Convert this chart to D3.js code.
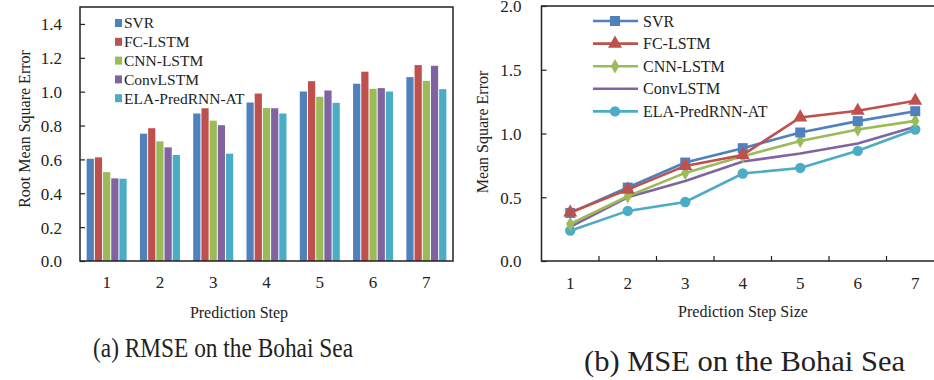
<!DOCTYPE html>
<html>
<head>
<meta charset="utf-8">
<script src="https://cdn.jsdelivr.net/npm/d3@7"></script>
<style>
  body { margin: 0; background: #fff; }
  svg { display: block; }
</style>
</head>
<body>
<svg id="chart" width="934" height="380"></svg>
<script>
// ---- data ----
var steps = ["1", "2", "3", "4", "5", "6", "7"];
var models = ["SVR", "FC-LSTM", "CNN-LSTM", "ConvLSTM", "ELA-PredRNN-AT"];
var colors = ["#4F81BD", "#C0504D", "#9BBB59", "#8064A2", "#4BACC6"];
var markers = ["square", "triangle", "diamond", "none", "circle"];

// RMSE per model (bars, panel a)
var rmseSVR  = [0.604, 0.752, 0.871, 0.936, 1.001, 1.047, 1.086];
var rmseFC   = [0.612, 0.784, 0.902, 0.989, 1.062, 1.118, 1.157];
var rmseCNN  = [0.525, 0.707, 0.829, 0.904, 0.970, 1.017, 1.064];
var rmseConv = [0.488, 0.671, 0.802, 0.902, 1.007, 1.021, 1.153];
var rmseELA  = [0.486, 0.626, 0.634, 0.871, 0.934, 1.001, 1.015];

// MSE per model (lines, panel b)
var mseSVR  = [0.377, 0.576, 0.772, 0.885, 1.008, 1.097, 1.175];
var mseFC   = [0.380, 0.560, 0.746, 0.832, 1.126, 1.178, 1.257];
var mseCNN  = [0.290, 0.508, 0.691, 0.822, 0.942, 1.031, 1.099];
var mseConv = [0.267, 0.500, 0.628, 0.780, 0.843, 0.921, 1.052];
var mseELA  = [0.238, 0.393, 0.463, 0.686, 0.730, 0.864, 1.031];

var rmseTicks = [0, 0.2, 0.4, 0.6, 0.8, 1.0, 1.2, 1.4];
var mseTicks = [0, 0.5, 1.0, 1.5, 2.0];

var rmse = [rmseSVR, rmseFC, rmseCNN, rmseConv, rmseELA];
var mse = [mseSVR, mseFC, mseCNN, mseConv, mseELA];

var svg = d3.select("#chart");
var ink = "#222";

/* ---------------- panel (a): grouped bars ---------------- */
var a = {left: 80, right: 453, top: 7, bottom: 261};
var ga = svg.append("g");

var xA = d3.scaleBand().domain(steps).range([a.left, a.right]);
var xInner = d3.scaleBand().domain(models).range([0, 40]).paddingInner(0.12);
var yA = d3.scaleLinear().domain([0, 1.5]).range([a.bottom, a.top]);

rmse.forEach(function (vals, m) {
    ga.selectAll(".bar" + m)
        .data(vals)
        .enter().append("rect")
        .attr("x", function (d, i) { return xA(steps[i]) + (xA.bandwidth() - 40) / 2 + xInner(models[m]); })
        .attr("y", function (d) { return yA(d); })
        .attr("width", xInner.bandwidth())
        .attr("height", function (d) { return yA(0) - yA(d); })
        .attr("fill", colors[m]);
});

// frame
ga.append("rect")
    .attr("x", a.left).attr("y", a.top)
    .attr("width", a.right - a.left).attr("height", a.bottom - a.top)
    .attr("fill", "none").attr("stroke", ink).attr("stroke-width", 1.5);

// y axis (ticks inward)
var yAxisA = d3.axisRight(yA).tickValues(rmseTicks).tickSize(5).tickFormat(d3.format(".1f"));
var yax = ga.append("g").attr("transform", "translate(" + a.left + ",0)").call(yAxisA);
yax.select(".domain").remove();
yax.selectAll("line").attr("stroke", ink).attr("stroke-width", 1.2);
yax.selectAll("text").attr("x", -18).attr("text-anchor", "end").attr("fill", ink)
    .style("font-size", "17px").attr("dy", "0.35em");

// x labels
ga.selectAll(".xl").data(steps).enter().append("text")
    .attr("x", function (d) { return xA(d) + xA.bandwidth() / 2; })
    .attr("y", 288).attr("text-anchor", "middle").style("font-size", "17px").attr("fill", ink)
    .text(function (d) { return d; });

ga.append("text").attr("x", 239).attr("y", 318).attr("text-anchor", "middle").attr("fill", ink)
    .style("font-size", "16px").text("Prediction Step");
ga.append("text").attr("transform", "translate(30,129) rotate(-90)").attr("fill", ink)
    .attr("text-anchor", "middle").style("font-size", "16px").text("Root Mean Square Error");

// legend
models.forEach(function (name, m) {
    var ly = 23 + m * 18.8;
    ga.append("rect").attr("x", 115).attr("y", ly - 4).attr("width", 7).attr("height", 8).attr("fill", colors[m]);
    ga.append("text").attr("x", 124).attr("y", ly).attr("dy", "0.35em").attr("fill", ink)
        .style("font-size", "15.5px").text(name);
});

/* ---------------- panel (b): lines ---------------- */
var b = {left: 541.5, top: 6, bottom: 261};
var bandW = 57.5;
var gb = svg.append("g");

var xB = d3.scalePoint().domain(steps).range([b.left + bandW / 2, b.left + bandW * 6.5]);
var yB = d3.scaleLinear().domain([0, 2.0]).range([b.bottom, b.top]);
var bRight = b.left + bandW * 7;

gb.append("rect")
    .attr("x", b.left).attr("y", b.top)
    .attr("width", bRight - b.left).attr("height", b.bottom - b.top)
    .attr("fill", "none").attr("stroke", ink).attr("stroke-width", 1.5);

var yAxisB = d3.axisRight(yB).tickValues(mseTicks).tickSize(5).tickFormat(d3.format(".1f"));
var ybx = gb.append("g").attr("transform", "translate(" + b.left + ",0)").call(yAxisB);
ybx.select(".domain").remove();
ybx.selectAll("line").attr("stroke", ink).attr("stroke-width", 1.2);
ybx.selectAll("text").attr("x", -20).attr("text-anchor", "end").attr("fill", ink)
    .style("font-size", "17px").attr("dy", "0.35em");

// x tick marks between categories (inward)
gb.selectAll(".xt").data(d3.range(1, 7)).enter().append("line")
    .attr("x1", function (k) { return b.left + k * bandW; })
    .attr("x2", function (k) { return b.left + k * bandW; })
    .attr("y1", b.bottom).attr("y2", b.bottom - 5)
    .attr("stroke", ink).attr("stroke-width", 1.2);

gb.selectAll(".xl").data(steps).enter().append("text")
    .attr("x", function (d) { return xB(d); })
    .attr("y", 289).attr("text-anchor", "middle").style("font-size", "17px").attr("fill", ink)
    .text(function (d) { return d; });

gb.append("text").attr("x", 743).attr("y", 317).attr("text-anchor", "middle").attr("fill", ink)
    .style("font-size", "16px").text("Prediction Step Size");
gb.append("text").attr("transform", "translate(488,132) rotate(-90)").attr("fill", ink)
    .attr("text-anchor", "middle").style("font-size", "16px").text("Mean Square Error");

var symbolType = {square: d3.symbolSquare, triangle: d3.symbolTriangle, diamond: d3.symbolDiamond, circle: d3.symbolCircle};
var symbolSize = {square: 100, triangle: 85, diamond: 60, circle: 85};

function drawMarker(g, kind, x, y, color) {
    if (kind === "none") return;
    g.append("path")
        .attr("d", d3.symbol().type(symbolType[kind]).size(symbolSize[kind])())
        .attr("transform", "translate(" + x + "," + y + ")")
        .attr("fill", color);
}

var line = d3.line()
    .x(function (d, i) { return xB(steps[i]); })
    .y(function (d) { return yB(d); });

// draw lines bottom-up so SVR/FC end on top like the original
var order = [3, 4, 2, 0, 1];
order.forEach(function (m) {
    gb.append("path").datum(mse[m]).attr("d", line)
        .attr("fill", "none").attr("stroke", colors[m]).attr("stroke-width", 2.6);
    mse[m].forEach(function (v, i) {
        drawMarker(gb, markers[m], xB(steps[i]), yB(v), colors[m]);
    });
});

// legend
models.forEach(function (name, m) {
    var ly = 21 + m * 22.6;
    gb.append("line").attr("x1", 593).attr("x2", 638).attr("y1", ly).attr("y2", ly)
        .attr("stroke", colors[m]).attr("stroke-width", 2.6);
    drawMarker(gb, markers[m], 615, ly, colors[m]);
    gb.append("text").attr("x", 643).attr("y", ly).attr("dy", "0.35em").attr("fill", ink)
        .style("font-size", "16px").text(name);
});

/* ---------------- captions ---------------- */
svg.append("text").attr("x", 93).attr("y", 357).attr("fill", ink)
    .attr("textLength", 260).attr("lengthAdjust", "spacingAndGlyphs")
    .style("font-size", "27px").text("(a) RMSE on the Bohai Sea");
svg.append("text").attr("x", 584).attr("y", 371).attr("fill", ink)
    .attr("textLength", 321).attr("lengthAdjust", "spacingAndGlyphs")
    .style("font-size", "30px").text("(b) MSE on the Bohai Sea");

// serif everywhere, like the paper figure
svg.selectAll("text").style("font-family", "'Liberation Serif', 'Times New Roman', serif");
</script>
</body>
</html>
